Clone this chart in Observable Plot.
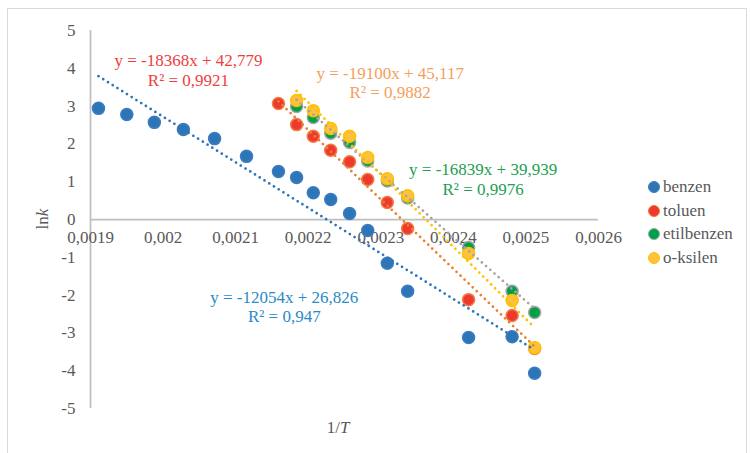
<!DOCTYPE html>
<html>
<head>
<meta charset="utf-8">
<script src="https://cdn.jsdelivr.net/npm/d3@7"></script>
<script src="https://cdn.jsdelivr.net/npm/@observablehq/plot@0.6"></script>
<style>
  body { margin: 0; background: #fff; }
  #wrap { position: relative; width: 750px; height: 453px; overflow: hidden; font-family: "Liberation Serif", "Times New Roman", serif; }
  #frame { position: absolute; left: 7px; top: 8px; width: 740px; height: 450px; border: 1.5px solid #D9D9D9; box-sizing: border-box; }
  #chart { position: absolute; left: 0; top: 0; }
  .ttl { position: absolute; color: #595959; font-size: 17px; white-space: nowrap; }
  .legend { position: absolute; left: 648px; top: 176px; color: #595959; font-size: 17px; }
  .legend .item { position: absolute; left: 0; height: 22px; line-height: 22px; white-space: nowrap; }
  .legend .sw { position: absolute; left: 0; top: 5px; width: 12px; height: 12px; border-radius: 50%; box-sizing: border-box; }
  .legend .lb { position: absolute; left: 15px; top: 0; }
</style>
</head>
<body>
<div id="wrap">
  <div id="frame"></div>
  <div id="chart"></div>
</div>
<script>
// ---- data ----
const invT = [0.001911, 0.00195, 0.001988, 0.002028, 0.002071, 0.002115, 0.002159, 0.002184, 0.002207,
              0.002231, 0.002257, 0.002282, 0.002309, 0.002337, 0.002421, 0.002481, 0.002512];
const benzen     = [2.94, 2.78, 2.57, 2.38, 2.14, 1.67, 1.27, 1.11, 0.71, 0.53, 0.16, -0.29, -1.16, -1.90, -3.12, -3.10, -4.07];
const toluen     = [3.07, 2.51, 2.20, 1.83, 1.53, 1.06, 0.45, -0.24, -2.12, -2.54, -3.41];          // from invT[6]
const etilbenzen = [2.99, 2.70, 2.28, 2.04, 1.55, 1.02, 0.57, -0.74, -1.90, -2.46];                 // from invT[7]
const oksilen    = [3.15, 2.88, 2.41, 2.20, 1.64, 1.08, 0.63, -0.90, -2.14, -3.39];                 // from invT[7]

const seriesNames = ["benzen", "toluen", "etilbenzen", "o-ksilen"];
const slopes      = [-12054, -18368, -16839, -19100];
const intercepts  = [26.826, 42.779, 39.939, 45.117];
const r2          = [0.947, 0.9921, 0.9976, 0.9882];

const xTicks = [0.0019, 0.002, 0.0021, 0.0022, 0.0023, 0.0024, 0.0025, 0.0026];
const xTickLabels = ["0,0019", "0,002", "0,0021", "0,0022", "0,0023", "0,0024", "0,0025", "0,0026"];
const yTicks = [5, 4, 3, 2, 1, 0, -1, -2, -3, -4, -5];

// ---- styles ----
const FONT = "Liberation Serif, Times New Roman, serif";
const markerFill   = ["#2E75B6", "#EE3A2C", "#00A048", "#FFC13B"];
const markerStroke = ["#3B7CC4", "#F27A45", "#A5A5A5", "#FFC000"];
const trendColor   = ["#2E75B6", "#ED7D31", "#A5A5A5", "#FFC000"];
const labelColor   = ["#2A8AC6", "#EE4040", "#22A04F", "#F4A05A"];
// label anchor positions (data coords) for equation annotations
const labelX  = [0.002167, 0.002035, 0.002441, 0.002313];
const labelY1 = [-2.06, 4.21, 1.32, 3.86];
const labelY2 = [-2.57, 3.68, 0.79, 3.36];

// ---- tables ----
const offsets = [0, 6, 7, 7];
const values = [benzen, toluen, etilbenzen, oksilen];
const points = values.map((arr, s) => arr.map((v, i) => ({ s, x: invT[offsets[s] + i], y: v })));
const trends = points.map((pts, s) => {
  const xs = pts.map(p => p.x);
  const x0 = d3.min(xs), x1 = d3.max(xs);
  return [x0, x1].map(x => ({ s, x, y: slopes[s] * x + intercepts[s] }));
});
const comma = v => String(v).replace(".", ",");
const labels = seriesNames.map((n, s) => ({
  s,
  l1: `y = ${comma(slopes[s])}x + ${comma(intercepts[s])}`,
  l2: `R² = ${comma(r2[s])}`
}));

const marks = [
  Plot.ruleX([0.0019], { y1: -5, y2: 5, stroke: "#BFBFBF", strokeWidth: 1.75 }),
  Plot.ruleY([0], { x1: 0.0019, x2: 0.0026, stroke: "#BFBFBF", strokeWidth: 1.75 }),
  Plot.text(yTicks, { x: 0.0019, y: d => d, text: d => String(d), textAnchor: "end", dx: -15, fill: "#595959", fontSize: 17, fontFamily: FONT }),
  Plot.text(xTicks, { x: d => d, y: 0, text: (d, i) => xTickLabels[i], dy: 18, fill: "#595959", fontSize: 17, fontFamily: FONT }),
];
points.forEach((pts, s) => {
  marks.push(Plot.dot(pts, { x: "x", y: "y", r: 6, fill: markerFill[s], stroke: markerStroke[s], strokeWidth: 1.5 }));
});
trends.forEach((tr, s) => {
  marks.push(Plot.line(tr, { x: "x", y: "y", stroke: trendColor[s], strokeWidth: 2.75, strokeDasharray: "0 5.6", strokeLinecap: "round" }));
});
labels.forEach((lb, s) => {
  marks.push(Plot.text([lb], { x: labelX[s], y: labelY1[s], text: "l1", fill: labelColor[s], fontSize: 17, fontFamily: FONT }));
  marks.push(Plot.text([lb], { x: labelX[s], y: labelY2[s], text: "l2", fill: labelColor[s], fontSize: 17, fontFamily: FONT }));
});

const plot = Plot.plot({
  width: 750,
  height: 453,
  marginLeft: 90,
  marginRight: 152,
  marginTop: 30,
  marginBottom: 45,
  x: { domain: [0.0019, 0.0026], axis: null },
  y: { domain: [-5, 5], axis: null },
  style: { background: "transparent", fontFamily: FONT, overflow: "visible" },
  marks
});
document.getElementById("chart").appendChild(plot);

// axis titles
const wrap = document.getElementById("wrap");
const yT = document.createElement("div");
yT.className = "ttl";
yT.innerHTML = 'ln<i>k</i>';
yT.style.left = "43px"; yT.style.top = "219px";
yT.style.transform = "translate(-50%,-50%) rotate(-90deg)";
wrap.appendChild(yT);
const xT = document.createElement("div");
xT.className = "ttl";
xT.innerHTML = '1/<i>T</i>';
xT.style.left = "338px"; xT.style.top = "428px";
xT.style.transform = "translate(-50%,-50%)";
wrap.appendChild(xT);

// legend
const lg = document.createElement("div");
lg.className = "legend";
seriesNames.forEach((n, s) => {
  const it = document.createElement("div");
  it.className = "item";
  it.style.top = (s * 23.7) + "px";
  it.innerHTML = `<span class="sw" style="background:${markerFill[s]};border:1.5px solid ${markerStroke[s]}"></span><span class="lb">${n}</span>`;
  lg.appendChild(it);
});
wrap.appendChild(lg);
</script>
</body>
</html>
